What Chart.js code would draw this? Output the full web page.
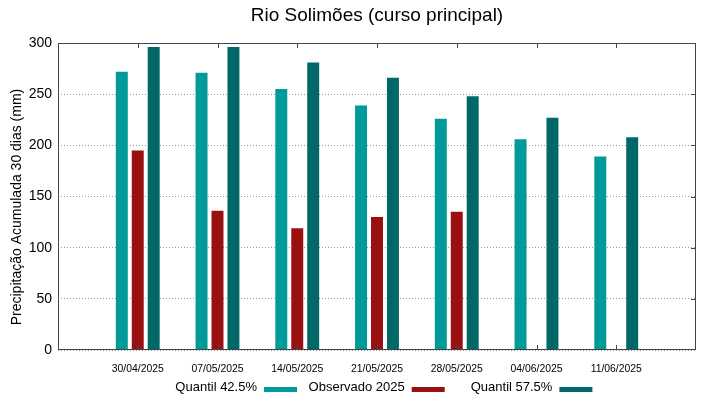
<!DOCTYPE html>
<html>
<head>
<meta charset="utf-8">
<script src="https://cdn.jsdelivr.net/npm/chart.js@4"></script>
<style>
  html, body { margin: 0; padding: 0; background: #fff; }
  #wrap { width: 719px; height: 399px; }
</style>
</head>
<body>
<div id="wrap"><canvas id="rioChart" width="719" height="399"></canvas></div>
<script>
const FONT = "'Liberation Sans', Arial, sans-serif";

const titleText = "Rio Solimões (curso principal)";
const yTitleText = "Precipitação Acumulada 30 dias (mm)";

const dates = ["30/04/2025","07/05/2025","14/05/2025","21/05/2025","28/05/2025","04/06/2025","11/06/2025"];
const quantil425 = [272, 271, 255, 239, 226, 206, 189];
const observado  = [195, 136, 119, 130, 135, null, null];
const quantil575 = [296, 296, 281, 266, 248, 227, 208];
const yTicks = [0, 50, 100, 150, 200, 250, 300];

// empty slot on each side so the groups sit one step in from the frame
const pad = arr => [null, ...arr, null];
const labels = ["", ...dates, ""];

const decor = {
  id: "decor",
  afterDraw(chart) {
    const { ctx, chartArea: a, scales } = chart;
    ctx.save();

    // frame
    ctx.strokeStyle = "#444";
    ctx.lineWidth = 1;
    ctx.strokeRect(a.left + 0.5, a.top + 0.5, a.right - a.left - 1, a.bottom - a.top - 1);

    // inward ticks top/bottom at each date, right side at y ticks
    ctx.beginPath();
    for (let i = 1; i <= dates.length; i++) {
      const x = Math.round(scales.x.getPixelForValue(i)) + 0.5;
      ctx.moveTo(x, a.top); ctx.lineTo(x, a.top + 5);
      ctx.moveTo(x, a.bottom); ctx.lineTo(x, a.bottom - 5);
    }
    yTicks.slice(1, -1).forEach(v => {
      const y = Math.round(scales.y.getPixelForValue(v)) + 0.5;
      ctx.moveTo(a.right, y); ctx.lineTo(a.right - 5, y);
    });
    ctx.stroke();

    // title
    ctx.fillStyle = "#000";
    ctx.font = "19px " + FONT;
    ctx.textAlign = "center";
    ctx.textBaseline = "middle";
    ctx.fillText(titleText, (a.left + a.right) / 2, 16);

    // y title
    ctx.save();
    ctx.translate(17, 207);
    ctx.rotate(-Math.PI / 2);
    ctx.font = "14px " + FONT;
    ctx.fillText(yTitleText, 0, 0);
    ctx.restore();

    // legend: right-aligned text, swatch after it
    ctx.font = "13px " + FONT;
    ctx.textAlign = "right";
    chart.data.datasets.forEach((ds, i) => {
      const sx = 264 + i * 147.7;
      ctx.fillStyle = "#000";
      ctx.fillText(ds.label, sx - 7, 387);
      ctx.fillStyle = ds.backgroundColor;
      ctx.fillRect(sx, 387, 33, 5);
    });
    ctx.restore();
  }
};

new Chart(document.getElementById("rioChart"), {
  type: "bar",
  data: {
    labels: labels,
    datasets: [
      { label: "Quantil 42.5%",  data: pad(quantil425), backgroundColor: "#009a9a" },
      { label: "Observado 2025", data: pad(observado),  backgroundColor: "#9a0f0f" },
      { label: "Quantil 57.5%",  data: pad(quantil575), backgroundColor: "#006868" }
    ]
  },
  options: {
    responsive: false,
    animation: false,
    layout: { padding: { top: 43, right: 23, left: 0, bottom: 0 } },
    datasets: { bar: { categoryPercentage: 0.6, barPercentage: 0.75 } },
    plugins: { legend: { display: false }, title: { display: false }, tooltip: { enabled: false } },
    scales: {
      x: {
        offset: false,
        grid: { display: false, drawTicks: false },
        border: { display: false },
        ticks: { color: "#000", font: { family: FONT, size: 10.4 }, padding: 13, maxRotation: 0, autoSkip: false },
        afterFit(s) { s.height = 49; }
      },
      y: {
        min: 0, max: 300,
        afterBuildTicks(s) { s.ticks = yTicks.map(v => ({ value: v })); },
        grid: { color: "#999", drawTicks: false },
        border: { display: false, dash: [1, 2] },
        ticks: { color: "#000", font: { family: FONT, size: 14 }, padding: 6 },
        afterFit(s) { s.width = 58; }
      }
    }
  },
  plugins: [decor]
});
</script>
</body>
</html>
